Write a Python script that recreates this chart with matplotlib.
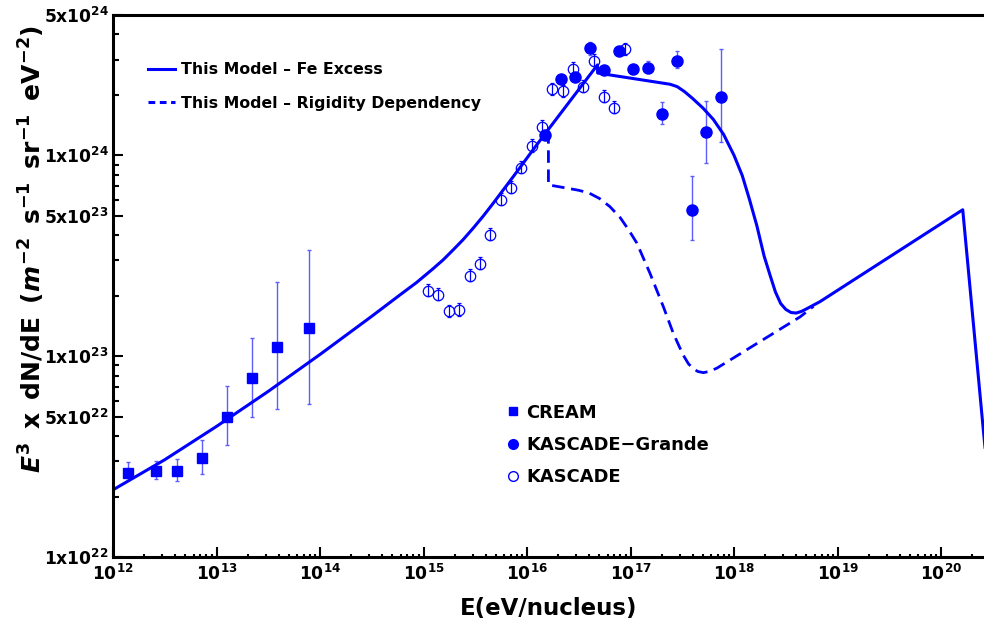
import matplotlib
matplotlib.use('Agg')
import matplotlib.pyplot as plt
from matplotlib.lines import Line2D
from matplotlib.ticker import FixedLocator, NullFormatter
import numpy as np

plt.rcParams['font.family'] = ['DejaVu Sans']
plt.rcParams['font.weight'] = 'bold'
plt.rcParams['mathtext.fontset'] = 'custom'
plt.rcParams['mathtext.rm'] = 'DejaVu Sans:bold'
plt.rcParams['mathtext.bf'] = 'DejaVu Sans:bold'
plt.rcParams['mathtext.it'] = 'DejaVu Sans:bold:italic'
plt.rcParams['mathtext.default'] = 'rm'

# CREAM (squares)
cream_E = [1.40e12, 2.59e12, 4.18e12, 7.24e12, 1.26e13, 2.22e13, 3.82e13, 7.83e13]
cream_F = [2.61e22, 2.68e22, 2.68e22, 3.10e22, 4.97e22, 7.80e22, 1.11e23, 1.38e23]
cream_hi = [2.97e22, 3.02e22, 3.07e22, 3.83e22, 7.08e22, 1.23e23, 2.34e23, 3.36e23]
cream_lo = [2.47e22, 2.45e22, 2.39e22, 2.59e22, 3.60e22, 4.99e22, 5.46e22, 5.81e22]

# KASCADE-Grande (filled circles)
kg_E = [1.49e16, 2.12e16, 2.91e16, 4.04e16, 5.58e16, 7.74e16, 1.06e17,
        1.47e17, 2.03e17, 2.81e17, 3.90e17, 5.36e17, 7.43e17]
kg_F = [1.27e24, 2.41e24, 2.47e24, 3.41e24, 2.67e24, 3.32e24, 2.70e24,
        2.72e24, 1.61e24, 2.96e24, 5.36e23, 1.30e24, 1.96e24]
kg_hi = [1.27e24, 2.41e24, 2.47e24, 3.67e24, 2.67e24, 3.32e24, 2.70e24,
         2.94e24, 1.85e24, 3.30e24, 7.85e23, 1.86e24, 3.40e24]
kg_lo = [1.27e24, 2.41e24, 2.47e24, 3.16e24, 2.67e24, 3.32e24, 2.70e24,
         2.61e24, 1.43e24, 2.71e24, 3.79e23, 9.16e23, 1.16e24]

# KASCADE (open circles)
k_E = [1.10e15, 1.38e15, 1.76e15, 2.22e15, 2.79e15, 3.49e15, 4.43e15, 5.61e15,
       7.00e15, 8.81e15, 1.11e16, 1.41e16, 1.76e16, 2.21e16, 2.78e16, 3.50e16,
       4.41e16, 5.58e16, 6.98e16, 8.85e16]
k_F = [2.12e23, 2.02e23, 1.67e23, 1.69e23, 2.52e23, 2.89e23, 4.02e23, 6.01e23,
       6.87e23, 8.65e23, 1.11e24, 1.39e24, 2.13e24, 2.08e24, 2.69e24, 2.19e24,
       2.96e24, 1.96e24, 1.73e24, 3.37e24]
k_hi = [2.29e23, 2.18e23, 1.80e23, 1.83e23, 2.72e23, 3.12e23, 4.34e23, 6.49e23,
        7.42e23, 9.34e23, 1.20e24, 1.50e24, 2.30e24, 2.25e24, 2.91e24, 2.37e24,
        3.20e24, 2.12e24, 1.87e24, 3.64e24]
k_lo = [1.99e23, 1.90e23, 1.57e23, 1.59e23, 2.37e23, 2.72e23, 3.78e23, 5.65e23,
        6.46e23, 8.13e23, 1.04e24, 1.31e24, 2.00e24, 1.96e24, 2.53e24, 2.06e24,
        2.78e24, 1.84e24, 1.63e24, 3.17e24]

# model: Fe excess (solid)
fe_E = [1.00e12, 3.16e12, 1.00e13, 3.16e13, 1.00e14, 3.16e14, 5.93e14, 8.59e14,
        1.24e15, 1.55e15, 1.94e15, 2.43e15, 3.03e15, 3.78e15, 4.72e15, 5.89e15,
        7.38e15, 1.15e16, 1.51e16, 4.79e16, 4.81e16, 2.41e17, 2.82e17, 3.31e17,
        3.98e17, 5.01e17, 6.31e17, 7.94e17, 1.00e18, 1.20e18, 1.41e18, 1.66e18,
        1.95e18, 2.24e18, 2.51e18, 2.82e18, 3.16e18, 3.55e18, 3.98e18, 4.47e18,
        5.01e18, 6.78e18, 1.62e20, 2.56e20, 2.69e20]
fe_F = [2.16e22, 3.05e22, 4.47e22, 6.68e22, 1.02e23, 1.58e23, 2.02e23, 2.33e23,
        2.73e23, 3.02e23, 3.39e23, 3.82e23, 4.35e23, 4.99e23, 5.78e23, 6.73e23,
        7.85e23, 1.07e24, 1.29e24, 2.82e24, 2.57e24, 2.26e24, 2.20e24, 2.08e24,
        1.92e24, 1.72e24, 1.51e24, 1.27e24, 1.00e24, 7.94e23, 6.03e23, 4.47e23,
        3.16e23, 2.51e23, 2.09e23, 1.83e23, 1.71e23, 1.65e23, 1.64e23, 1.67e23,
        1.72e23, 1.87e23, 5.36e23, 4.30e22, 3.31e22]

# model: rigidity dependency (dashed)
rig_E = [1.61e16, 1.61e16, 2.42e16, 3.16e16, 3.98e16, 5.01e16, 6.31e16, 7.94e16,
         9.55e16, 1.15e17, 1.54e17, 2.07e17, 2.59e17, 2.95e17, 3.24e17, 3.63e17,
         4.05e17, 4.47e17, 5.05e17, 5.75e17, 6.81e17, 4.35e18, 5.85e18]
rig_F = [1.32e24, 7.13e23, 6.87e23, 6.70e23, 6.49e23, 6.10e23, 5.56e23, 4.90e23,
         4.27e23, 3.66e23, 2.59e23, 1.77e23, 1.30e23, 1.12e23, 1.01e23, 9.16e22,
         8.65e22, 8.39e22, 8.28e22, 8.39e22, 8.71e22, 1.57e23, 1.77e23]

blue = '#0000ff'
ebar = '#5c5cff'

fig = plt.figure(figsize=(9.84, 6.26), dpi=100)
ax = fig.add_axes([113 / 984, 69 / 626, 1 - 113 / 984, 542 / 626])

def yerr(F, lo, hi):
    F = np.array(F)
    return [F - np.array(lo), np.array(hi) - F]

ax.errorbar(cream_E, cream_F, yerr=yerr(cream_F, cream_lo, cream_hi), fmt='none',
            ecolor=ebar, elinewidth=1, capsize=1.5, capthick=1)
ax.errorbar(kg_E, kg_F, yerr=yerr(kg_F, kg_lo, kg_hi), fmt='none',
            ecolor=ebar, elinewidth=1, capsize=1.5, capthick=1)
ax.errorbar(k_E, k_F, yerr=yerr(k_F, k_lo, k_hi), fmt='none',
            ecolor=blue, elinewidth=0.9, capsize=1.5, capthick=0.9)

ax.plot(cream_E, cream_F, 's', color=blue, ms=6.5, ls='none')
ax.plot(kg_E, kg_F, 'o', color=blue, ms=8, ls='none')
ax.plot(k_E, k_F, 'o', mfc='none', mec=blue, mew=0.9, ms=7.5, ls='none')

ax.plot(fe_E, fe_F, color=blue, lw=2.2, solid_joinstyle='round')
ax.plot(rig_E, rig_F, color=blue, lw=2.0, dashes=(4.5, 2.4))

ax.set_xscale('log')
ax.set_yscale('log')
ax.set_xlim(1e12, 10 ** 20.415)
ax.set_ylim(1e22, 5e24)

ymaj = [1e22, 5e22, 1e23, 5e23, 1e24, 5e24]
ylab = [r'$1x10^{22}$', r'$5x10^{22}$', r'$1x10^{23}$', r'$5x10^{23}$',
        r'$1x10^{24}$', r'$5x10^{24}$']
ax.yaxis.set_major_locator(FixedLocator(ymaj))
ax.set_yticklabels(ylab)
ymin = [m * 10.0 ** d for d in (22, 23, 24) for m in (2, 3, 4, 6, 7, 8, 9)]
ax.yaxis.set_minor_locator(FixedLocator(ymin))
ax.yaxis.set_minor_formatter(NullFormatter())

xmaj = [10.0 ** p for p in range(12, 21)]
ax.xaxis.set_major_locator(FixedLocator(xmaj))
ax.set_xticklabels([r'$10^{%d}$' % p for p in range(12, 21)])
xmin = [m * 10.0 ** d for d in range(12, 21) for m in range(2, 10)]
ax.xaxis.set_minor_locator(FixedLocator(xmin))
ax.xaxis.set_minor_formatter(NullFormatter())

ax.tick_params(which='both', direction='in', top=False, right=False, width=1.5)
ax.tick_params(which='major', length=7, labelsize=12.3, pad=3)
ax.tick_params(axis='x', which='major', pad=5)
ax.tick_params(axis='y', which='minor', length=4)
ax.tick_params(axis='x', which='minor', length=2.5)

for s in ('left', 'bottom', 'top'):
    ax.spines[s].set_linewidth(2.2)
ax.spines['right'].set_visible(False)

ax.set_xlabel('E(eV/nucleus)', fontsize=16.5, fontweight='bold', labelpad=9)
ax.set_ylabel(r'$\mathit{E}^{3}\,$ x $\,$dN/dE $\,$($\mathit{m}^{-2}$ $\,$s$^{-1}$ $\,$sr$^{-1}$ $\,$eV$^{-2}$)',
              fontsize=18, fontweight='bold')
ax.yaxis.set_label_coords(-0.076, 0.568)

line_handles = [Line2D([], [], color=blue, lw=2.2),
                Line2D([], [], color=blue, lw=2.2, dashes=(2.2, 1.5))]
leg1 = ax.legend(line_handles, ['This Model \u2013 Fe Excess', 'This Model \u2013 Rigidity Dependency'],
                 loc='upper left', bbox_to_anchor=(0.040, 0.913), frameon=False,
                 prop={'size': 11.3, 'weight': 'bold'}, handlelength=1.72,
                 handletextpad=0.38, labelspacing=1.2, borderpad=0, borderaxespad=0)
ax.add_artist(leg1)

mark_handles = [Line2D([], [], color=blue, marker='s', ls='none', ms=6),
                Line2D([], [], color=blue, marker='o', ls='none', ms=7),
                Line2D([], [], mec=blue, mfc='none', marker='o', ls='none', ms=7, mew=1)]
ax.legend(mark_handles, ['CREAM', 'KASCADE\u2212Grande', 'KASCADE'],
          loc='upper left', bbox_to_anchor=(0.451, 0.283), frameon=False,
          prop={'size': 12.9, 'weight': 'bold'}, handlelength=0.8,
          handletextpad=0.33, labelspacing=0.8, borderpad=0, borderaxespad=0)

fig.savefig('out.png', dpi=100)
